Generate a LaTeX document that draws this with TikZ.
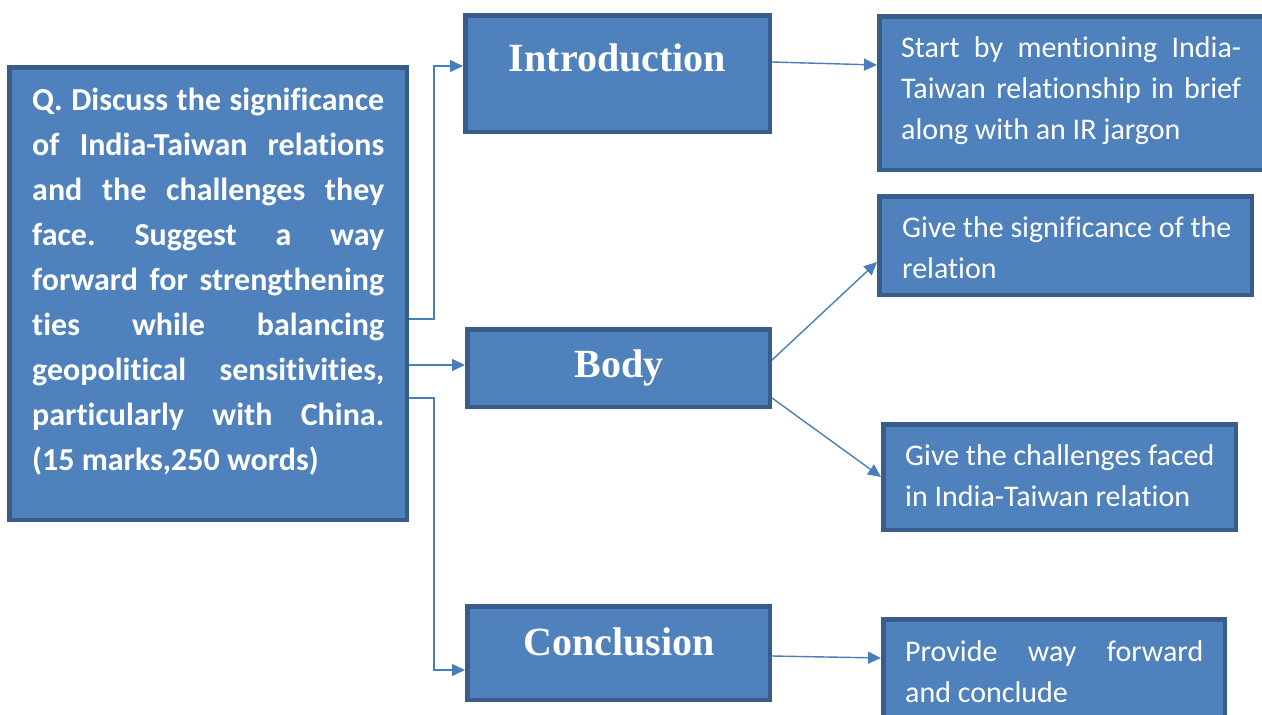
\documentclass[tikz,border=0pt]{standalone}
\usepackage{fontspec}
\setmainfont[Ligatures=NoCommon]{Carlito}
\newfontfamily\headfont{Liberation Serif}
\usetikzlibrary{arrows.meta,calc}
\definecolor{boxfill}{HTML}{4F81BD}
\definecolor{boxline}{HTML}{385D8A}
\definecolor{connline}{HTML}{4A7EBB}
\frenchspacing
\tikzset{
  bx/.style={draw=boxline, fill=boxfill, line width=4.5pt, inner sep=0pt, rectangle},
  conn/.style={draw=connline, line width=1.4pt, -{Triangle[length=13pt,width=12pt]}},
  qtext/.style={text=white, inner sep=0pt, anchor=north west, text width=352pt, align=justify,
     font=\fontsize{32}{45}\selectfont\bfseries\frenchspacing},
  rtext/.style={text=white, inner sep=0pt, anchor=north west,
     font=\fontsize{30}{41}\selectfont\frenchspacing},
  htext/.style={text=white, inner sep=0pt, anchor=base, font=\fontsize{40}{44}\selectfont\headfont\bfseries},
}
\begin{document}
\begin{tikzpicture}[x=1pt,y=-1pt]
\useasboundingbox (0,0) rectangle (1262,715);
\clip (0,0) rectangle (1262,715);
% boxes
\node[bx, minimum width=397.5pt, minimum height=452.5pt] (L) at (208,293.5) {};
\node[bx, minimum width=304.5pt, minimum height=116.5pt] (I) at (617.5,73.5) {};
\node[bx, minimum width=393.5pt, minimum height=153.5pt] (IT) at (1076,93) {};
\node[bx, minimum width=302.5pt, minimum height=77.5pt] (B) at (618.5,368) {};
\node[bx, minimum width=372.5pt, minimum height=98.5pt] (S) at (1065.5,245.5) {};
\node[bx, minimum width=352.5pt, minimum height=105.5pt] (CH) at (1059.5,477) {};
\node[bx, minimum width=302.5pt, minimum height=93.5pt] (C) at (618.5,653) {};
\node[bx, minimum width=341.5pt, minimum height=118.5pt] (P) at (1054,678.5) {};
% texts
\node[qtext] (Lt) at (32,88) {Q. Discuss the significance\linebreak of India-Taiwan relations\linebreak and the challenges they\linebreak face. Suggest a way\linebreak forward for strengthening\linebreak ties while balancing\linebreak geopolitical sensitivities,\linebreak particularly with China.\linebreak (15 marks,250 words)};
\node[htext] (It) at (617.5,71) {Introduction};
\node[htext] (Bt) at (619,377) {Body};
\node[htext] (Ct) at (619,655) {Conclusion};
\node[rtext, text width=340pt, align=justify] (ITt) at (901,36) {Start by mentioning India-\linebreak Taiwan relationship in brief\linebreak along with an IR jargon};
\node[rtext, align=left] (St) at (902,216) {Give the significance of the\\relation};
\node[rtext, align=left] (CHt) at (905,444) {Give the challenges faced\\in India-Taiwan relation};
\node[rtext, text width=298pt, align=justify] (Pt) at (905,640) {Provide way forward\linebreak and conclude};
% connectors
\draw[conn] ([yshift=-25.5pt]L.east) -| ([xshift=-29pt,yshift=7.5pt]I.west) -- ([yshift=7.5pt]I.west);
\draw[conn] ([yshift=-71.5pt]L.east) -- ([yshift=3pt]B.west);
\draw[conn] ([yshift=-104.5pt]L.east) -| ([xshift=-31pt,yshift=-17pt]C.west) -- ([yshift=-17pt]C.west);
\draw[conn] ([yshift=11.5pt]I.east) -- ([yshift=28pt]IT.west);
\draw[conn] ([yshift=8pt]B.east) -- ([yshift=-16.5pt]S.west);
\draw[conn] ([yshift=-30pt]B.east) -- (CH.west);
\draw[conn] ([yshift=-3pt]C.east) -- ([yshift=20.5pt]P.west);
\end{tikzpicture}
\end{document}
